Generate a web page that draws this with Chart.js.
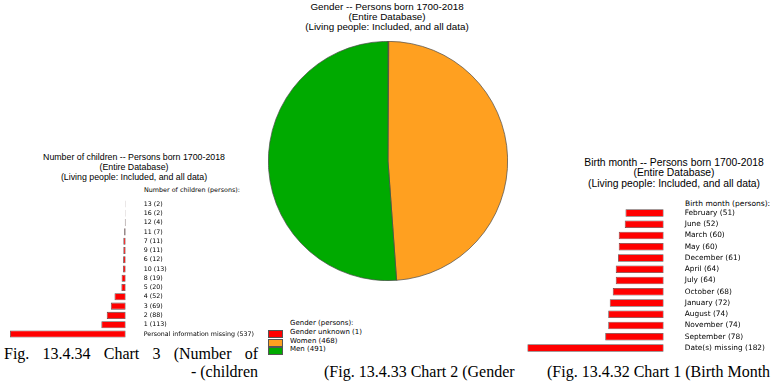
<!DOCTYPE html>
<html>
<head>
<meta charset="utf-8">
<script src="https://cdn.jsdelivr.net/npm/chart.js@4.4.0/dist/chart.umd.min.js"></script>
<style>
  body { margin: 0; width: 774px; height: 382px; background: #fff; position: relative; overflow: hidden; }
  canvas, .txt { position: absolute; }
  .ttl { font-family: "Liberation Sans", Arial, sans-serif; text-align: center; color: #000; }
  .hdr { font-family: "DejaVu Sans", sans-serif; color: #000; white-space: nowrap; }
  .cap { font-family: "Liberation Serif", "Times New Roman", serif; font-size: 16px; color: #000; white-space: nowrap; line-height: 18px; }
  #legend div { position: absolute; white-space: nowrap; font-family: "DejaVu Sans", sans-serif; font-size: 7px; }
  #legend span { position: absolute; width: 13px; height: 6px; border: 1px solid #555; }
</style>
</head>
<body>

<div class="txt ttl" style="left:20px; top:151.5px; width:228px; font-size:8.8px; line-height:10px;">Number of children -- Persons born 1700-2018<br>(Entire Database)<br>(Living people: Included, and all data)</div>
<div class="txt hdr" style="left:144px; top:186px; font-size:6.4px;">Number of children (persons):</div>
<canvas id="childChart" width="260" height="147" style="left:0; top:195px;"></canvas>

<div class="txt ttl" style="left:287px; top:2px; width:200px; font-size:9.85px; line-height:10px;">Gender -- Persons born 1700-2018<br>(Entire Database)<br>(Living people: Included, and all data)</div>
<canvas id="genderChart" width="240" height="240" style="left:267.5px; top:41px;"></canvas>
<div id="legend" class="txt" style="left:268px; top:318px; width:120px; height:40px;"></div>

<div class="txt ttl" style="left:564px; top:158px; width:220px; font-size:10.35px; line-height:10.4px;">Birth month -- Persons born 1700-2018<br>(Entire Database)<br>(Living people: Included, and all data)</div>
<div class="txt hdr" style="left:685px; top:199px; font-size:7.5px;">Birth month (persons):</div>
<canvas id="monthChart" width="254" height="152" style="left:520px; top:205px;"></canvas>

<div class="txt cap" style="left:4px; top:345px; width:254px; text-align:justify; text-align-last:justify;">Fig. 13.4.34 Chart 3 (Number of</div>
<div class="txt cap" style="left:5px; top:363px; width:253px; text-align:right;">- (children</div>
<div class="txt cap" style="left:324px; top:363px;">(Fig. 13.4.33 Chart 2 (Gender</div>
<div class="txt cap" style="left:547px; top:363px;">(Fig. 13.4.32 Chart 1 (Birth Month</div>

<script>
const childLabels = ['13', '16', '12', '11', '7', '9', '6', '10', '8', '5', '4', '3', '2', '1', 'Personal information missing'];
const childCounts = [2, 2, 4, 7, 11, 11, 12, 13, 19, 20, 52, 69, 88, 113, 537];

const genderLabels = ['Gender unknown', 'Women', 'Men'];
const genderCounts = [1, 468, 491];
const genderColors = ['#ff0000', '#ffa020', '#00aa00'];

const monthLabels = ['February', 'June', 'March', 'May', 'December', 'April', 'July', 'October', 'January', 'August', 'November', 'September', 'Date(s) missing'];
const monthCounts = [51, 52, 60, 60, 61, 64, 64, 68, 72, 74, 74, 78, 182];

// horizontal bars growing to the left, names on the right
let barChart = (id, labels, counts, opt) => {
  const ctx = document.getElementById(id);
  new Chart(ctx, {
    type: 'bar',
    data: {
      labels: labels.map((l, i) => l + ' (' + counts[i] + ')'),
      datasets: [{
        data: counts,
        backgroundColor: '#ff0000',
        borderColor: '#5e4a4a',
        borderWidth: 0.8,
        borderSkipped: false,
        barPercentage: opt.bar,
        categoryPercentage: 1
      }]
    },
    options: {
      indexAxis: 'y',
      responsive: false,
      animation: false,
      layout: { padding: opt.pad },
      plugins: { legend: { display: false }, tooltip: { enabled: false } },
      scales: {
        x: { display: false, reverse: true, min: 0, max: Math.max(...counts) },
        y: {
          position: 'right',
          grid: { display: false, drawTicks: false },
          border: { display: false },
          ticks: { color: '#000', autoSkip: false, padding: opt.tickPad, font: { family: 'DejaVu Sans', size: opt.font } },
          afterFit: (scale) => {
            // fixed label column, no extra vertical padding from the tick labels
            scale.width = opt.axisW;
            scale.paddingTop = 0;
            scale.paddingBottom = 0;
          }
        }
      }
    }
  });
};

barChart('childChart', childLabels, childCounts, {
  bar: 0.76, font: 6.3, tickPad: 18, axisW: 134.3,
  pad: { left: 10, top: 4.4, bottom: 3.4, right: 0 }
});

barChart('monthChart', monthLabels, monthCounts, {
  bar: 0.68, font: 7.4, tickPad: 21, axisW: 110.3,
  pad: { left: 7.3, top: 2.4, bottom: 3.4, right: 0 }
});

new Chart(document.getElementById('genderChart'), {
  type: 'pie',
  data: {
    labels: genderLabels,
    datasets: [{ data: genderCounts, backgroundColor: genderColors, borderColor: '#4a4a4a', borderWidth: 0.7 }]
  },
  options: {
    responsive: false,
    animation: false,
    plugins: { legend: { display: false }, tooltip: { enabled: false } }
  }
});

// legend below the pie
let legendHTML = document.getElementById('legend');
let html = '<div style="left:22px; top:1px;">Gender (persons):</div>';
genderLabels.forEach((l, i) => {
  let y = 12 + i * 8.7;
  html += '<span style="left:0; top:' + y + 'px; background:' + genderColors[i] + ';"></span>';
  html += '<div style="left:22px; top:' + (y - 2) + 'px;">' + l + ' (' + genderCounts[i] + ')</div>';
});
legendHTML.innerHTML = html;
</script>
</body>
</html>
